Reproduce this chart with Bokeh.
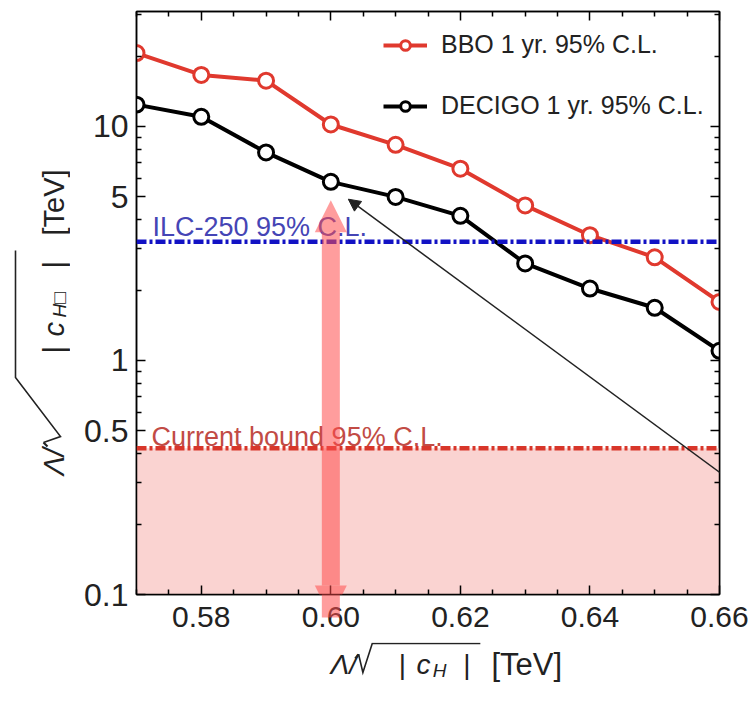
import math
from bokeh.plotting import figure
from bokeh.layouts import row, column
from bokeh.models import (Range1d, FixedTicker, LogAxis, LinearAxis, Legend, LegendItem,
                          BoxAnnotation, Span, Label, Arrow, NormalHead)
from bokeh.embed import file_html
from bokeh.resources import INLINE

# ---------------- data ----------------
x_vals = [0.57, 0.58, 0.59, 0.60, 0.61, 0.62, 0.63, 0.64, 0.65, 0.66]
bbo = [20.6, 16.6, 15.7, 10.2, 8.35, 6.6, 4.6, 3.43, 2.76, 1.78]
decigo = [12.4, 11.0, 7.75, 5.8, 5.0, 4.15, 2.6, 2.03, 1.68, 1.1]
series_labels = ["BBO 1 yr. 95% C.L.", "DECIGO 1 yr. 95% C.L."]
ilc_bound = 3.22
current_bound = 0.422
ilc_text = "ILC-250 95% C.L."
current_text = "Current bound 95% C.L."
x_ticks = [0.58, 0.60, 0.62, 0.64, 0.66]
x_tick_labels = ["0.58", "0.60", "0.62", "0.64", "0.66"]
x_minor = [0.57, 0.575, 0.585, 0.59, 0.595, 0.605, 0.61, 0.615, 0.625, 0.63,
           0.635, 0.645, 0.65, 0.655]
y_ticks = [0.1, 0.5, 1, 5, 10]
y_tick_labels = ["0.1", "0.5", "1", "5", "10"]
y_minor = [0.2, 0.3, 0.4, 0.6, 0.7, 0.8, 0.9, 2, 3, 4, 6, 7, 8, 9, 20, 30]
# big double arrow (x, bottom tip, top tip)
band_arrow = (0.60, 0.0797, 4.84)
# thin pointer arrow (start x, start y, end x, end y)
pointer = (0.6656, 0.256, 0.6027, 4.89)

# ---------------- layout ----------------
W, H = 755, 705
YL_W = 70            # width of the y-label strip
XL_TOP = 642         # canvas y where the x-label strip starts
FL, FR, FT, FB = 136, 719, 11, 594
X0, X1, Y0, Y1 = 0.57, 0.66, 0.1, 31.0
RED = "#e0392e"
FONT = "Liberation Sans"
TXT = "#222222"

p = figure(width=W - YL_W, height=XL_TOP, x_range=Range1d(X0, X1),
           y_range=Range1d(Y0, Y1), y_axis_type="log", output_backend="svg",
           toolbar_location=None, min_border_left=FL - YL_W, min_border_right=W - FR,
           min_border_top=FT, min_border_bottom=XL_TOP - FB)
p.grid.visible = False
p.outline_line_color = "black"
p.outline_line_width = 1.5
p.background_fill_color = "white"
p.border_fill_color = "white"

def style_axis(ax, show_labels=True):
    ax.axis_line_color = "black"
    ax.axis_line_width = 1.5
    ax.major_tick_in = 9
    ax.major_tick_out = 0
    ax.minor_tick_in = 5
    ax.minor_tick_out = 0
    ax.major_tick_line_width = 1.5
    ax.minor_tick_line_width = 1.5
    ax.major_tick_line_color = "black"
    ax.minor_tick_line_color = "black"
    ax.major_label_text_font = FONT
    ax.major_label_text_color = TXT
    if not show_labels:
        ax.major_label_text_color = None
        ax.major_label_standoff = 0
    ax.axis_label = None

p.xaxis.ticker = FixedTicker(ticks=x_ticks, minor_ticks=x_minor)
p.yaxis.ticker = FixedTicker(ticks=y_ticks, minor_ticks=y_minor)
p.xaxis.major_label_overrides = {t: s for t, s in zip(x_ticks, x_tick_labels)}
p.yaxis.major_label_overrides = {t: s for t, s in zip(y_ticks, y_tick_labels)}
for ax in p.xaxis:
    style_axis(ax)
    ax.major_label_text_font_size = "30px"
    ax.major_label_standoff = 12
for ax in p.yaxis:
    style_axis(ax)
    ax.major_label_text_font_size = "32px"
    ax.major_label_standoff = 8

top_ax = LinearAxis(ticker=FixedTicker(ticks=x_ticks, minor_ticks=x_minor))
style_axis(top_ax, show_labels=False)
p.add_layout(top_ax, "above")
right_ax = LogAxis(ticker=FixedTicker(ticks=y_ticks, minor_ticks=y_minor))
style_axis(right_ax, show_labels=False)
p.add_layout(right_ax, "right")

# shaded excluded region
p.add_layout(BoxAnnotation(top=current_bound, fill_color="#fad3d1", fill_alpha=1.0,
                           line_color=None, level="underlay"))

# bounds
p.add_layout(Span(location=ilc_bound, dimension="width", line_color="#1212c4",
                  line_width=4.5, line_dash="10 3 3 3"))
p.add_layout(Span(location=current_bound, dimension="width", line_color="#d8362a",
                  line_width=4.5, line_dash="10 3 3 3"))

# series
r1l = p.line(x_vals, bbo, line_color=RED, line_width=4)
r1s = p.scatter(x_vals, bbo, marker="circle", size=15, fill_color="white",
                line_color=RED, line_width=3)
r2l = p.line(x_vals, decigo, line_color="black", line_width=4)
r2s = p.scatter(x_vals, decigo, marker="circle", size=15, fill_color="white",
                line_color="black", line_width=3)

legend = Legend(items=[LegendItem(label=series_labels[0], renderers=[r1l, r1s]),
                       LegendItem(label=series_labels[1], renderers=[r2l, r2s])],
                location=(383 - FL, FB - 120), border_line_color=None,
                background_fill_alpha=0, padding=0, margin=0, spacing=32,
                glyph_width=44, glyph_height=24, label_height=24,
                label_standoff=14, label_text_font=FONT, label_text_font_size="25px",
                label_text_color=TXT)
p.add_layout(legend)

def sx(X):
    return X - FL

def sy(Y):
    return FB - Y

p.add_layout(Label(x=sx(152), y=sy(226), x_units="screen", y_units="screen", text=ilc_text,
                   text_font=FONT, text_font_size="27px", text_color="#4545b5",
                   text_baseline="alphabetic"))
p.add_layout(Label(x=sx(151), y=sy(436), x_units="screen", y_units="screen",
                   text=current_text, text_font=FONT, text_font_size="27px",
                   text_color="#c24b45", text_baseline="alphabetic"))

# big translucent double arrow
ax_, ab, at = band_arrow
pink = "#ff4d4d"
p.add_layout(Arrow(x_start=ax_, y_start=ab, x_end=ax_, y_end=at, line_color=pink,
                   line_alpha=0.55, line_width=18,
                   start=NormalHead(size=32, fill_color=pink, fill_alpha=0.55, line_color=None),
                   end=NormalHead(size=32, fill_color=pink, fill_alpha=0.55, line_color=None)))

# thin pointer arrow
p.add_layout(Arrow(x_start=pointer[0], y_start=pointer[1], x_end=pointer[2], y_end=pointer[3],
                   line_color=TXT, line_width=1.5,
                   end=NormalHead(size=12, fill_color=TXT, line_color=TXT)))

# ---------------- axis-title strips (canvas pixel coordinates) ----------------
def strip(x0, x1, y0, y1):
    f = figure(width=x1 - x0, height=y1 - y0, x_range=Range1d(x0, x1),
               y_range=Range1d(H - y1, H - y0), output_backend="svg",
               toolbar_location=None, x_axis_location=None, y_axis_location=None,
               min_border=0, outline_line_color=None)
    f.grid.visible = False
    f.background_fill_color = "white"
    f.border_fill_color = "white"
    return f

def put(f, text, X, Y, size, style="normal", angle=0.0):
    f.add_layout(Label(x=X, y=H - Y, text=text, text_font=FONT, text_font_size=f"{size}px",
                       text_color=TXT, text_font_style=style, text_baseline="alphabetic",
                       text_align="left", angle=angle))

def radical(f, pts):
    f.line([q[0] for q in pts[1:]], [H - q[1] for q in pts[1:]], line_color=TXT,
           line_width=1.6, line_join="miter")
    f.line([pts[0][0], pts[1][0]], [H - pts[0][1], H - pts[1][1]], line_color=TXT,
           line_width=2.2)

# x-axis title: Λ/√| c_H |  [TeV]
xf = strip(YL_W, W, XL_TOP, H)
bx, by = 298, 664
def xl(u, v):
    return bx + u, by - v
put(xf, "Λ/", *xl(0, 0), 28, style="italic")
radical(xf, [xl(29, 6), xl(33, 10), xl(38, -8), xl(49, 21), xl(176, 21)])
put(xf, "|", *xl(80, 0), 28)
put(xf, "c", *xl(101, 0), 28, style="italic")
put(xf, "H", *xl(120, -6), 19, style="italic")
put(xf, "|", *xl(156, 0), 28)
put(xf, "[TeV]", *xl(189, 0), 31)

# y-axis title (rotated): Λ/√| c_H□ |  [TeV]
yf = strip(0, YL_W, 0, H)
ybx, yby = 53, 475
def yl(u, v):
    return ybx - v, yby - u
ang = math.pi / 2
put(yf, "Λ/", *yl(0, 0), 29, style="italic", angle=ang)
radical(yf, [yl(29, 6), yl(33, 10), yl(39, -7), yl(98, 38), yl(225, 38)])
put(yf, "|", *yl(122, 0), 29, angle=ang)
put(yf, "c", *yl(139, 0), 29, style="italic", angle=ang)
put(yf, "H□", *yl(158, -6), 19, style="italic", angle=ang)
put(yf, "|", *yl(207, 0), 29, angle=ang)
put(yf, "[TeV]", *yl(240, 0), 29, angle=ang)

layout = row(yf, column(p, xf, spacing=0), spacing=0)
open("out.html", "w").write(file_html(layout, INLINE))
